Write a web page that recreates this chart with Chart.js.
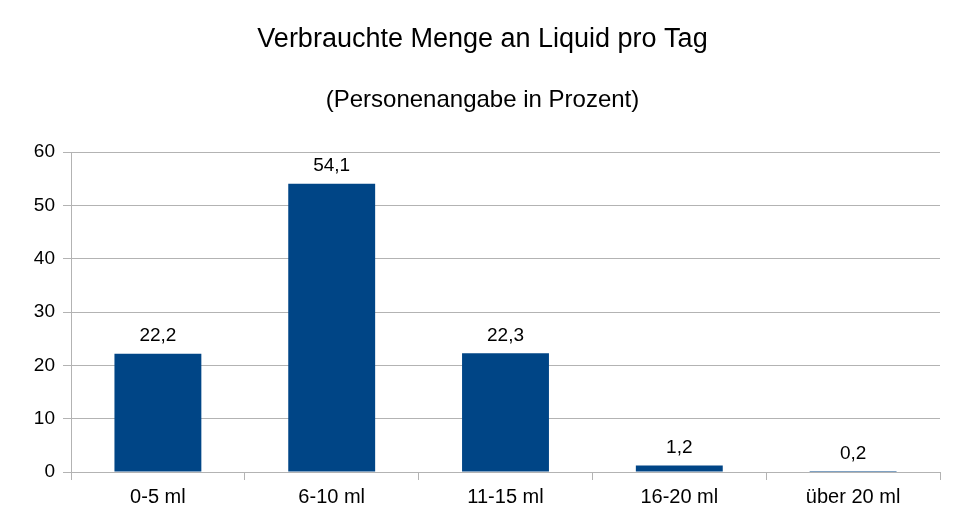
<!DOCTYPE html>
<html>
<head>
<meta charset="utf-8">
<script src="https://cdn.jsdelivr.net/npm/chart.js@4"></script>
<style>
  html, body { margin: 0; padding: 0; background: #fff; }
  #wrap { width: 965px; height: 531px; }
</style>
</head>
<body>
<div id="wrap"><canvas id="liquid-chart"></canvas></div>
<script>
// Daten aus der Umfrage
const categories = ['0-5 ml', '6-10 ml', '11-15 ml', '16-20 ml', 'über 20 ml'];
const percentValues = [22.2, 54.1, 22.3, 1.2, 0.2];
const yTicks = [0, 10, 20, 30, 40, 50, 60];

const fontFamily = '"Liberation Sans", Arial, sans-serif';
const gridGray = '#b3b3b3';

// Werte über den Balken schreiben
const valueLabels = {
    id: 'valueLabels',
    afterDatasetsDraw(chart) {
        const ctx = chart.ctx;
        const meta = chart.getDatasetMeta(0);
        ctx.save();
        ctx.font = '19px ' + fontFamily;
        ctx.fillStyle = '#000';
        ctx.textAlign = 'center';
        ctx.textBaseline = 'bottom';
        meta.data.forEach((bar, i) => {
            const txt = percentValues[i].toFixed(1).replace('.', ',');
            ctx.fillText(txt, bar.x, bar.y - 8);
        });
        ctx.restore();
    }
};

const ctx = document.getElementById('liquid-chart').getContext('2d');
const liquidChart = new Chart(ctx, {
    type: 'bar',
    data: {
        labels: categories,
        datasets: [{
            data: percentValues,
            backgroundColor: '#004586',
            borderWidth: 0,
            barPercentage: 0.5,
            categoryPercentage: 1.0
        }]
    },
    options: {
        responsive: true,
        maintainAspectRatio: false,
        animation: false,
        layout: { padding: 0 },
        plugins: {
            legend: { display: false },
            tooltip: { enabled: false },
            title: {
                display: true,
                text: 'Verbrauchte Menge an Liquid pro Tag',
                color: '#000',
                font: { family: fontFamily, size: 27, weight: 'normal' },
                padding: { top: 23, bottom: 31 }
            },
            subtitle: {
                display: true,
                text: '(Personenangabe in Prozent)',
                color: '#000',
                font: { family: fontFamily, size: 24, weight: 'normal' },
                padding: { top: 0, bottom: 37 }
            }
        },
        scales: {
            x: {
                grid: {
                    offset: true,
                    drawOnChartArea: true,
                    color: (c) => c.index === categories.length ? gridGray : 'rgba(0,0,0,0)',
                    tickColor: gridGray,
                    tickLength: 8
                },
                border: { color: gridGray },
                ticks: {
                    color: '#000',
                    font: { family: fontFamily, size: 20 },
                    padding: 5
                },
                afterFit(scale) { scale.height = 59; }
            },
            y: {
                min: 0,
                max: 60,
                afterBuildTicks(scale) {
                    scale.ticks = yTicks.map(v => ({ value: v }));
                },
                grid: {
                    color: gridGray,
                    tickColor: gridGray,
                    tickLength: 8
                },
                border: { color: gridGray },
                ticks: {
                    color: '#000',
                    font: { family: fontFamily, size: 19 },
                    padding: 8
                },
                afterFit(scale) { scale.width = 71; }
            },
            // leere Achse rechts, nur als Rand
            yRight: {
                position: 'right',
                min: 0,
                max: 60,
                grid: { display: false },
                ticks: { display: false },
                border: { display: false },
                afterFit(scale) { scale.width = 25; }
            }
        }
    },
    plugins: [valueLabels]
});
</script>
</body>
</html>
